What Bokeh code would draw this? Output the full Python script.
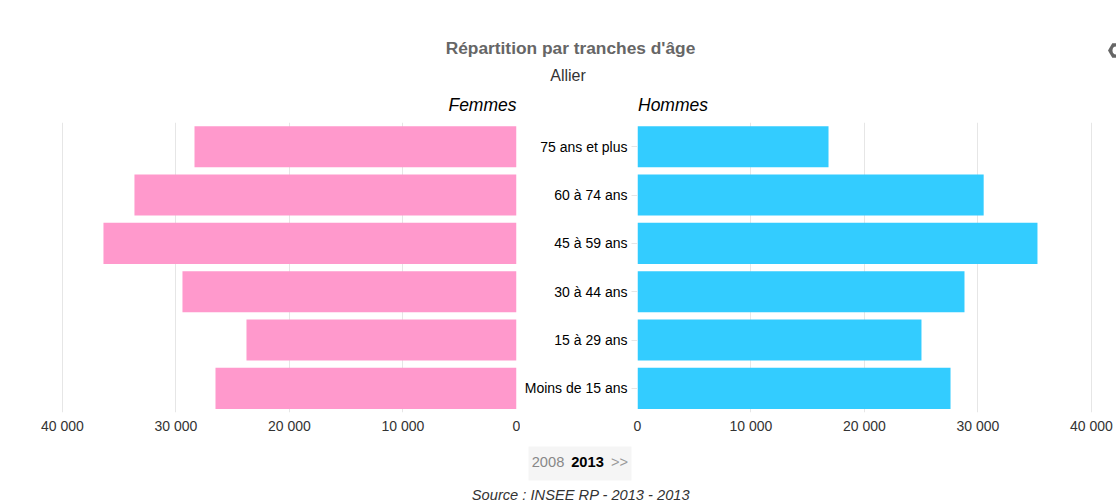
from bokeh.plotting import figure
from bokeh.layouts import column, row
from bokeh.models import FactorRange, Range1d, FixedTicker
from bokeh.core.properties import value
from bokeh.embed import file_html
from bokeh.resources import INLINE

categories = ["Moins de 15 ans", "15 à 29 ans", "30 à 44 ans", "45 à 59 ans", "60 à 74 ans", "75 ans et plus"]
femmes = [26520, 23790, 29430, 36390, 33660, 28370]
hommes = [27580, 25020, 28810, 35240, 30500, 16830]
tick_values = [0, 10000, 20000, 30000, 40000]
tick_labels = ["0", "10 000", "20 000", "30 000", "40 000"]
PINK = "#ff99cc"
BLUE = "#33ccff"
GRID = "#e6e6e6"
TXT = "#333333"
FONT = "Liberation Sans"


def pyramid(values, color, x_start, x_end, width, frame_w, left, right, with_labels):
    p = figure(width=width, height=313, frame_width=frame_w, frame_height=290,
               output_backend="svg", toolbar_location=None,
               x_range=Range1d(x_start, x_end), y_range=FactorRange(factors=categories),
               min_border_left=left, min_border_right=right, min_border_top=0, min_border_bottom=0,
               outline_line_color=None, background_fill_color="white")
    p.hbar(y=categories, left=0, right=values, height=0.85, color=color, line_color=None)
    p.xgrid.ticker = FixedTicker(ticks=tick_values)
    p.xgrid.grid_line_color = GRID
    p.ygrid.grid_line_color = None
    ax = p.xaxis[0]
    ax.ticker = FixedTicker(ticks=tick_values)
    ax.major_label_overrides = dict(zip(tick_values, tick_labels))
    ax.axis_line_color = None
    ax.major_tick_line_color = None
    ax.minor_tick_line_color = None
    ax.major_tick_out = 0
    ax.major_tick_in = 0
    ax.major_label_standoff = 5
    ax.major_label_text_font = FONT
    ax.major_label_text_font_size = "14px"
    ax.major_label_text_color = TXT
    ay = p.yaxis[0]
    if with_labels:
        ay.axis_line_color = None
        ay.major_tick_line_color = GRID
        ay.major_tick_out = 6
        ay.major_tick_in = 0
        ay.major_label_standoff = 4
        ay.major_label_text_font = FONT
        ay.major_label_text_font_size = "14px"
        ay.major_label_text_color = "black"
    else:
        ay.visible = False
    return p


left = pyramid(femmes, PINK, 45462, 0, 520, 516, 0, 4, False)
right = pyramid(hommes, BLUE, 0, 42203, 596, 479, 117, 0, True)


def band(height, y0, y1):
    p = figure(width=1116, height=height, output_backend="svg", toolbar_location=None,
               x_range=Range1d(0, 1116), y_range=Range1d(y1, y0),
               min_border=0, outline_line_color=None)
    p.axis.visible = False
    p.grid.visible = False
    return p


def label(p, x, y, text, size, color, style="normal", align="center", font=FONT):
    p.text(x=[x], y=[y], text=[text], text_font=value(font), text_font_size=value(size),
           text_color=color, text_font_style=style, text_align=align, text_baseline="middle")


head = band(122, 0, 122)
label(head, 570, 47.5, "Répartition par tranches d'âge", "17.33px", "#666666", "bold")
label(head, 567.5, 74.5, "Allier", "16px", TXT)
label(head, 516, 104, "Femmes", "17.5px", "black", "italic", "right")
label(head, 637.5, 104, "Hommes", "17.5px", "black", "italic", "left")
head.scatter(x=[1116], y=[50], marker="hex", size=17, color="#666666", line_color=None)
head.scatter(x=[1116], y=[50], marker="circle", size=8, color="white", line_color=None)

foot = band(69, 435, 504)
foot.quad(left=[528], right=[631], top=[445], bottom=[479], color="#f5f5f5", line_color=None)
label(foot, 547.5, 460, "2008", "14.67px", "#888888")
label(foot, 587, 460, "2013", "14.67px", "black", "bold")
label(foot, 619, 460, ">>", "14.67px", "#999999")
label(foot, 580.5, 493, "Source : INSEE RP - 2013 - 2013", "14.67px", TXT, "italic")

page = column(head, row(left, right, spacing=0), foot, spacing=0)
open("out.html", "w").write(file_html(page, INLINE))
